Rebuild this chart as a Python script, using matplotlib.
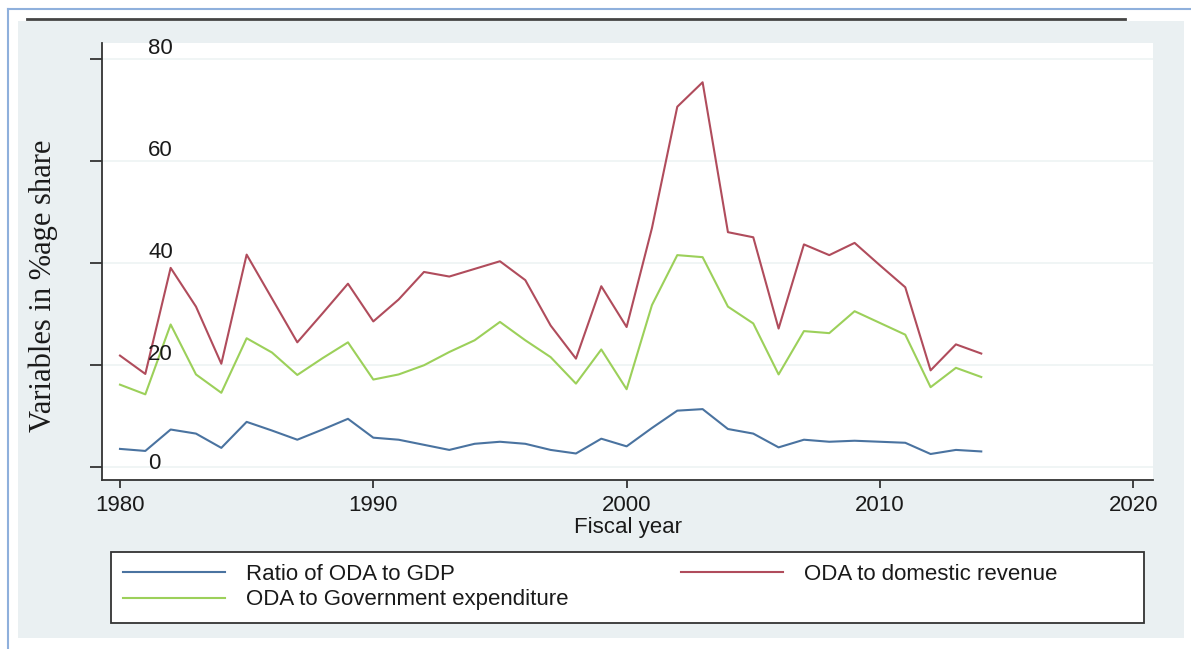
import numpy as np
import matplotlib
matplotlib.use("Agg")
import matplotlib.pyplot as plt
from matplotlib.patches import Rectangle
from matplotlib.lines import Line2D

# data
years = list(range(1980, 2015))
oda_gdp = [3.5, 3.1, 7.3, 6.5, 3.7, 8.8, 7.1, 5.3, 7.3, 9.4,
           5.7, 5.3, 4.3, 3.3, 4.5, 4.9, 4.5, 3.3, 2.6, 5.5,
           4.0, 7.6, 11.0, 11.3, 7.4, 6.5, 3.8, 5.3, 4.9, 5.1,
           4.9, 4.7, 2.5, 3.3, 3.0]
oda_rev = [21.8, 18.2, 39.0, 31.4, 20.2, 41.6, 33.0, 24.4, 30.1, 35.9,
           28.5, 32.8, 38.2, 37.3, 38.8, 40.3, 36.6, 27.7, 21.2, 35.4,
           27.4, 46.8, 70.6, 75.4, 46.0, 45.0, 27.1, 43.6, 41.5, 43.9,
           39.5, 35.2, 18.9, 24.0, 22.2]
oda_exp = [16.1, 14.2, 27.9, 18.1, 14.5, 25.2, 22.4, 18.0, 21.3, 24.4,
           17.1, 18.1, 19.9, 22.5, 24.8, 28.4, 24.8, 21.5, 16.3, 23.0,
           15.2, 31.7, 41.5, 41.1, 31.4, 28.1, 18.1, 26.6, 26.2, 30.5,
           28.2, 25.9, 15.6, 19.4, 17.6]
yticks = [0, 20, 40, 60, 80]
xticks = [1980, 1990, 2000, 2010, 2020]

W, H = 1191, 649
def fx(px):
    return px / W
def fy(py):
    return 1 - py / H

fig = plt.figure(figsize=(11.91, 6.49), dpi=100)
fig.patch.set_facecolor("white")

# outer decorations (page frame, rule, graph region)
fig.add_artist(Line2D([fx(8), fx(1191)], [fy(9), fy(9)], color="#8fb0dc", lw=1.5))
fig.add_artist(Line2D([fx(8), fx(8)], [fy(9), fy(649)], color="#8fb0dc", lw=1.5))
fig.patches.append(Rectangle((fx(18), fy(638)), fx(1184) - fx(18), fy(21) - fy(638),
                             transform=fig.transFigure, facecolor="#eaf0f2",
                             edgecolor="none", zorder=-1))
fig.add_artist(Line2D([fx(27), fx(1125)], [fy(19), fy(19)], color="#444444", lw=2))

ax = fig.add_axes([fx(102), fy(480), fx(1153) - fx(102), fy(43) - fy(480)])
ax.set_zorder(1)
ax.set_facecolor("white")

ax.plot(years, oda_gdp, color="#4a73a0", lw=1.5, label="Ratio of ODA to GDP")
ax.plot(years, oda_exp, color="#9cd05a", lw=1.5, label="ODA to Government expenditure")
ax.plot(years, oda_rev, color="#b04c5c", lw=1.5, label="ODA to domestic revenue")

ax.set_xlim(1979.29, 2020.78)
ax.set_ylim(-2.6, 83.1)

for s in ["top", "right"]:
    ax.spines[s].set_visible(False)
for s in ["left", "bottom"]:
    ax.spines[s].set_color("#333333")
    ax.spines[s].set_linewidth(1.3)

ax.set_yticks(yticks)
ax.set_yticklabels([])
ax.tick_params(axis="y", length=9, width=1.3, color="#333333", direction="out")
ax.grid(axis="y", color="#eef3f4", lw=1.2)
ax.set_axisbelow(True)
for v in yticks:
    off = 3 if v == 0 else 10
    ax.annotate(str(v), xy=(0.044, v), xycoords=("axes fraction", "data"),
                xytext=(0, off * 0.72), textcoords="offset points",
                ha="left", va="center", fontsize=16, family="Liberation Sans",
                color="#1a1a1a")

ax.set_xticks(xticks)
ax.set_xticklabels([str(t) for t in xticks], fontsize=16, family="Liberation Sans",
                   color="#1a1a1a")
ax.tick_params(axis="x", length=6, width=1.3, color="#333333", pad=5)

fig.text(fx(628), fy(527), "Fiscal year", ha="center", va="center",
         fontsize=16, family="Liberation Sans", color="#1a1a1a")
fig.text(fx(43), fy(286), "Variables in %age share", ha="center", va="center",
         rotation=90, fontsize=22, family="Liberation Serif", color="#1a1a1a")

# legend box
fig.patches.append(Rectangle((fx(111), fy(623)), fx(1144) - fx(111), fy(552) - fy(623),
                             transform=fig.transFigure, facecolor="white",
                             edgecolor="#333333", lw=1.3, zorder=1))
leg = fig.legend(loc="upper left", bbox_to_anchor=(fx(123), fy(564)),
                 bbox_transform=fig.transFigure, ncol=2, frameon=False,
                 borderpad=0, borderaxespad=0, handlelength=4.6,
                 handletextpad=0.95, columnspacing=5.05, labelspacing=0.2,
                 prop={"family": "Liberation Sans", "size": 16})
leg.set_zorder(2)
for t in leg.get_texts():
    t.set_color("#1a1a1a")

fig.savefig("out.png", dpi=100)
